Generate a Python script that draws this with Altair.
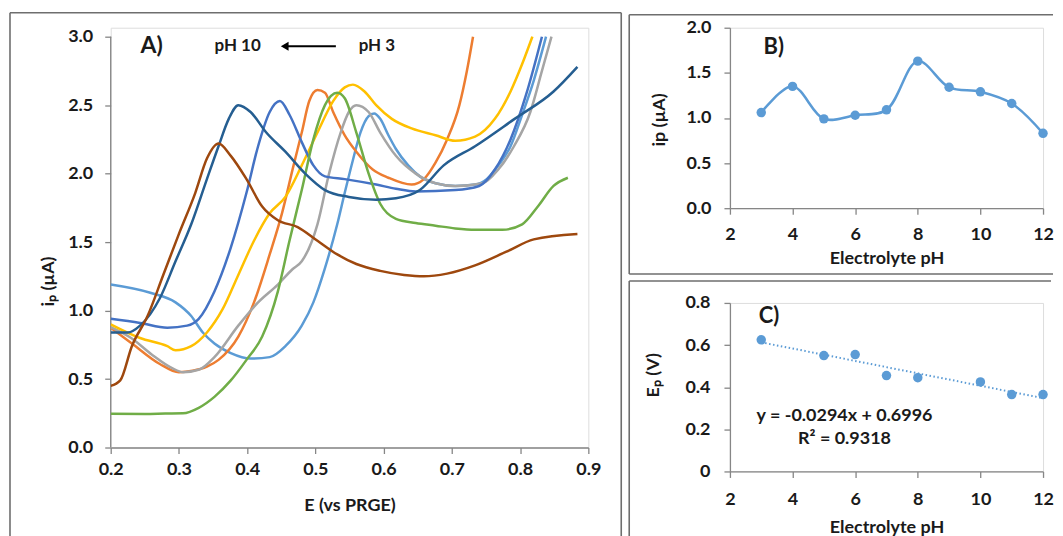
import altair as alt
import pandas as pd

# ---------------- Panel A: voltammograms (E vs PRGE, ip in uA) ----------------
E_s1 = [0.200, 0.258, 0.295, 0.318, 0.335, 0.352, 0.376, 0.405, 0.433, 0.456, 0.480, 0.497, 0.514, 0.532, 0.543,
        0.555, 0.566, 0.578, 0.586, 0.595, 0.607, 0.618, 0.636, 0.653, 0.676, 0.705, 0.734, 0.751, 0.768, 0.786,
        0.803, 0.820, 0.838]
I_s1 = [1.19, 1.13, 1.06, 0.96, 0.84, 0.76, 0.69, 0.65, 0.66, 0.74, 0.89, 1.06, 1.31, 1.63, 1.86,
        2.10, 2.30, 2.42, 2.44, 2.40, 2.28, 2.18, 2.06, 1.98, 1.93, 1.91, 1.92, 1.96, 2.06, 2.20,
        2.43, 2.68, 3.00]

E_s2 = [0.200, 0.231, 0.272, 0.300, 0.320, 0.341, 0.358, 0.387, 0.410, 0.433, 0.451, 0.468, 0.480, 0.491, 0.503,
        0.514, 0.526, 0.543, 0.560, 0.584, 0.607, 0.641, 0.659, 0.676, 0.693, 0.711, 0.722, 0.731]
I_s2 = [0.875, 0.76, 0.61, 0.55, 0.56, 0.59, 0.64, 0.81, 1.06, 1.41, 1.71, 2.06, 2.30, 2.53, 2.61,
        2.59, 2.45, 2.28, 2.16, 2.03, 1.97, 1.92, 1.96, 2.08, 2.25, 2.50, 2.75, 3.00]

E_s3 = [0.200, 0.230, 0.260, 0.290, 0.306, 0.330, 0.352, 0.387, 0.416, 0.445, 0.466, 0.480, 0.503, 0.520, 0.537,
        0.549, 0.560, 0.578, 0.595, 0.618, 0.647, 0.676, 0.705, 0.745, 0.768, 0.791, 0.815, 0.832, 0.846]
I_s3 = [0.88, 0.80, 0.68, 0.58, 0.55, 0.57, 0.66, 0.89, 1.06, 1.19, 1.30, 1.36, 1.63, 2.00, 2.30,
        2.45, 2.50, 2.45, 2.30, 2.13, 2.00, 1.93, 1.91, 1.93, 2.03, 2.20, 2.45, 2.75, 3.00]

E_s4 = [0.200, 0.243, 0.283, 0.295, 0.318, 0.341, 0.364, 0.387, 0.410, 0.433, 0.456, 0.480, 0.503, 0.526, 0.543,
        0.555, 0.572, 0.589, 0.612, 0.641, 0.676, 0.705, 0.734, 0.763, 0.786, 0.803, 0.818]
I_s4 = [0.90, 0.80, 0.74, 0.71, 0.74, 0.84, 1.01, 1.26, 1.51, 1.71, 1.83, 2.06, 2.30, 2.53, 2.63,
        2.65, 2.60, 2.50, 2.40, 2.33, 2.28, 2.24, 2.27, 2.40, 2.60, 2.80, 3.00]

E_s5 = [0.200, 0.243, 0.283, 0.312, 0.329, 0.352, 0.376, 0.399, 0.416, 0.433, 0.448, 0.462, 0.480, 0.497, 0.514,
        0.543, 0.589, 0.618, 0.647, 0.705, 0.740, 0.763, 0.786, 0.809, 0.832]
I_s5 = [0.94, 0.91, 0.875, 0.89, 0.94, 1.14, 1.46, 1.86, 2.20, 2.45, 2.53, 2.43, 2.23, 2.06, 1.98,
        1.96, 1.92, 1.89, 1.87, 1.88, 1.91, 2.03, 2.25, 2.58, 3.00]

E_s6 = [0.200, 0.250, 0.280, 0.306, 0.329, 0.352, 0.376, 0.399, 0.422, 0.445, 0.462, 0.480, 0.497, 0.514, 0.532,
        0.543, 0.560, 0.578, 0.595, 0.618, 0.647, 0.676, 0.705, 0.734, 0.774, 0.803, 0.826, 0.849, 0.870]
I_s6 = [0.246, 0.245, 0.248, 0.25, 0.29, 0.37, 0.49, 0.64, 0.81, 1.14, 1.51, 1.88, 2.25, 2.50, 2.59,
        2.55, 2.30, 2.00, 1.78, 1.67, 1.64, 1.62, 1.60, 1.59, 1.59, 1.63, 1.76, 1.91, 1.97]

E_s7 = [0.200, 0.225, 0.243, 0.272, 0.295, 0.318, 0.341, 0.358, 0.373, 0.387, 0.405, 0.428, 0.456, 0.485, 0.514,
        0.549, 0.589, 0.618, 0.653, 0.688, 0.734, 0.792, 0.849, 0.884]
I_s7 = [0.84, 0.84, 0.89, 1.09, 1.36, 1.63, 1.96, 2.20, 2.40, 2.50, 2.45, 2.30, 2.16, 2.00, 1.88,
        1.83, 1.81, 1.82, 1.88, 2.06, 2.20, 2.40, 2.60, 2.78]

E_s8 = [0.200, 0.214, 0.231, 0.254, 0.277, 0.300, 0.324, 0.341, 0.358, 0.376, 0.399, 0.422, 0.445, 0.474, 0.503,
        0.532, 0.560, 0.595, 0.630, 0.659, 0.693, 0.734, 0.780, 0.820, 0.884]
I_s8 = [0.45, 0.49, 0.74, 0.96, 1.26, 1.56, 1.86, 2.11, 2.22, 2.13, 1.96, 1.76, 1.66, 1.61, 1.51,
        1.41, 1.34, 1.29, 1.26, 1.25, 1.27, 1.33, 1.43, 1.52, 1.56]

series_names = ["s1", "s2", "s3", "s4", "s5", "s6", "s7", "s8"]
series_colors = ["#5B9BD5", "#ED7D31", "#A5A5A5", "#FFC000", "#4472C4", "#70AD47", "#255E91", "#9E480E"]
curves = [(E_s1, I_s1), (E_s2, I_s2), (E_s3, I_s3), (E_s4, I_s4),
          (E_s5, I_s5), (E_s6, I_s6), (E_s7, I_s7), (E_s8, I_s8)]

# ---------------- Panel B: peak current vs pH ----------------
pH_B = [3, 4, 5, 6, 7, 8, 9, 10, 11, 12]
ip_B = [1.06, 1.35, 0.99, 1.03, 1.09, 1.63, 1.34, 1.29, 1.16, 0.83]

# ---------------- Panel C: peak potential vs pH ----------------
pH_C = [3, 5, 6, 7, 8, 10, 11, 12]
Ep_C = [0.625, 0.55, 0.555, 0.455, 0.445, 0.425, 0.365, 0.365]

# ---------------- build tables ----------------
rows = []
for name, (ee, ii) in zip(series_names, curves):
    for k, (e, i) in enumerate(zip(ee, ii)):
        rows.append({"series": name, "E": e, "ip": i, "k": k})
dfA = pd.DataFrame(rows)
dfB = pd.DataFrame({"pH": pH_B, "ip": ip_B})
dfC = pd.DataFrame({"pH": pH_C, "Ep": Ep_C})
one = pd.DataFrame({"k": [0]})

FONT = "Lato"
INK = "#1a1a1a"
AXC = "#868686"
FRAME = "#6e6e6e"
BLUE = "#5B9BD5"
LAB = 18


def ax(**kw):
    base = dict(grid=False, labelFont=FONT, titleFont=FONT, labelFontWeight="bold",
                titleFontWeight="bold", labelFontSize=LAB, titleFontSize=LAB,
                labelColor=INK, titleColor=INK, domainColor=AXC, tickColor=AXC,
                tickSize=6, domainWidth=1.3, tickWidth=1.3, labelFlush=False)
    base.update(kw)
    return alt.Axis(**base)


def rule(x, y, x2=None, y2=None):
    enc = dict(x=alt.value(x), y=alt.value(y))
    if x2 is not None:
        enc["x2"] = alt.value(x2)
    if y2 is not None:
        enc["y2"] = alt.value(y2)
    return alt.Chart(one).mark_rule(color=FRAME, strokeWidth=1.6).encode(**enc)


# ---------------- Panel A ----------------
# plot area starts 9 px above the 3.0 tick so that panel B can sit higher
WA, HA = 479, 421
YTOP_A = 3.0 * HA / 412.0
xA = alt.X("E:Q", scale=alt.Scale(domain=[0.2, 0.9], nice=False, zero=False),
           axis=ax(values=[0.2, 0.3, 0.4, 0.5, 0.6, 0.7, 0.8, 0.9], format=".1f",
                   title="E (vs PRGE)", labelPadding=7, titleY=58, titleBaseline="middle"))
yA = alt.Y("ip:Q", scale=alt.Scale(domain=[0, YTOP_A], nice=False),
           axis=ax(values=[0, 0.5, 1, 1.5, 2, 2.5, 3], format=".1f", domain=False,
                   title="iₚ (µA)", labelPadding=12, titleX=-62, titleY=254, titleBaseline="middle"))

linesA = alt.Chart(dfA).mark_line(strokeWidth=2.5, interpolate="monotone", clip=True).encode(
    x=xA, y=yA,
    color=alt.Color("series:N", scale=alt.Scale(domain=series_names, range=series_colors), legend=None),
    order="k:Q",
)

yaxis_line = pd.DataFrame({"E": [0.2], "lo": [0.0], "hi": [3.0]})
axisA = alt.Chart(yaxis_line).mark_rule(color=AXC, strokeWidth=1.3).encode(x="E:Q", y="lo:Q", y2="hi:Q")

annA = pd.DataFrame({"E": [0.260, 0.386, 0.590], "ip": [2.93, 2.93, 2.93],
                     "label": ["A)", "pH 10", "pH 3"], "size": [23, 17, 17]})
textA = alt.Chart(annA).mark_text(font=FONT, fontWeight="bold", color=INK, align="center",
                                  baseline="middle").encode(
    x="E:Q", y="ip:Q", text="label:N", size=alt.Size("size:Q", scale=None, legend=None))

arrow = pd.DataFrame({"E": [0.455], "E2": [0.530], "ip": [2.93]})
arrowLine = alt.Chart(arrow).mark_rule(color="black", strokeWidth=2).encode(x="E:Q", x2="E2:Q", y="ip:Q")
arrowHead = alt.Chart(arrow).mark_point(shape="triangle-left", filled=True, size=80, color="black",
                                        opacity=1).encode(x="E:Q", y="ip:Q")

panelA = alt.layer(
    axisA, linesA, textA, arrowLine, arrowHead,
    rule(-101, -15, y2=520), rule(-101, -15, x2=512), rule(512, -15, y2=520),
).properties(width=WA, height=HA)

# ---------------- Panel B ----------------
WB, HB = 314, 181
xB = alt.X("pH:Q", scale=alt.Scale(domain=[2, 12], nice=False, zero=False),
           axis=ax(values=[2, 4, 6, 8, 10, 12], title="Electrolyte pH", labelPadding=11,
                   titleY=50, titleBaseline="middle"))
yB = alt.Y("ip:Q", scale=alt.Scale(domain=[0, 2], nice=False),
           axis=ax(values=[0, 0.5, 1, 1.5, 2], format=".1f", title="ip (µA)", labelPadding=13,
                   titleX=-71, titleY=92, titleBaseline="middle"))
lineB = alt.Chart(dfB).mark_line(color=BLUE, strokeWidth=2.5, interpolate="catmull-rom").encode(x=xB, y=yB)
ptsB = alt.Chart(dfB).mark_circle(color=BLUE, size=90, opacity=1).encode(x="pH:Q", y="ip:Q")
labB = pd.DataFrame({"pH": [3.4], "ip": [1.79], "label": ["B)"]})
textB = alt.Chart(labB).mark_text(font=FONT, fontWeight="bold", fontSize=22, color=INK).encode(
    x="pH:Q", y="ip:Q", text="label:N")
panelB = alt.layer(
    lineB, ptsB, textB,
    rule(-101, -13, y2=247), rule(-101, -13, x2=324), rule(-101, 247, x2=324),
).properties(width=WB, height=HB)

# ---------------- Panel C ----------------
WC, HC = 314, 169
xC = alt.X("pH:Q", scale=alt.Scale(domain=[2, 12], nice=False, zero=False),
           axis=ax(values=[2, 4, 6, 8, 10, 12], title="Electrolyte pH", labelPadding=13,
                   titleY=56, titleBaseline="middle"))
yC = alt.Y("Ep:Q", scale=alt.Scale(domain=[0, 0.8], nice=False),
           axis=ax(values=[0, 0.2, 0.4, 0.6, 0.8], format=".1~f", title="Eₚ (V)", labelPadding=14,
                   titleX=-77, titleY=72, titleBaseline="middle"))
ptsC = alt.Chart(dfC).mark_circle(color=BLUE, size=90, opacity=1).encode(x=xC, y=yC)
trendC = alt.Chart(dfC).transform_regression("pH", "Ep", extent=[3, 12]).mark_line(
    color=BLUE, strokeWidth=2, strokeDash=[1.5, 2.5]).encode(x="pH:Q", y="Ep:Q")
labC = pd.DataFrame({"pH": [3.25, 5.66, 5.66], "Ep": [0.74, 0.265, 0.152],
                     "label": ["C)", "y = -0.0294x + 0.6996", "R² = 0.9318"],
                     "size": [22, 18, 18]})
textC = alt.Chart(labC).mark_text(font=FONT, fontWeight="bold", color=INK).encode(
    x="pH:Q", y="Ep:Q", text="label:N", size=alt.Size("size:Q", scale=None, legend=None))
panelC = alt.layer(
    trendC, ptsC, textC,
    rule(-101, -22, y2=245), rule(-101, -22, x2=322),
).properties(width=WC, height=HC)

right = alt.vconcat(panelB, panelC, spacing=3)
chart = alt.hconcat(panelA, right, spacing=4).properties(
    padding={"left": 0, "top": 2, "right": 0, "bottom": 0}
).configure_view(stroke=None).configure(background="white")

chart.save("out.html", embed_options={"renderer": "svg", "actions": False})
